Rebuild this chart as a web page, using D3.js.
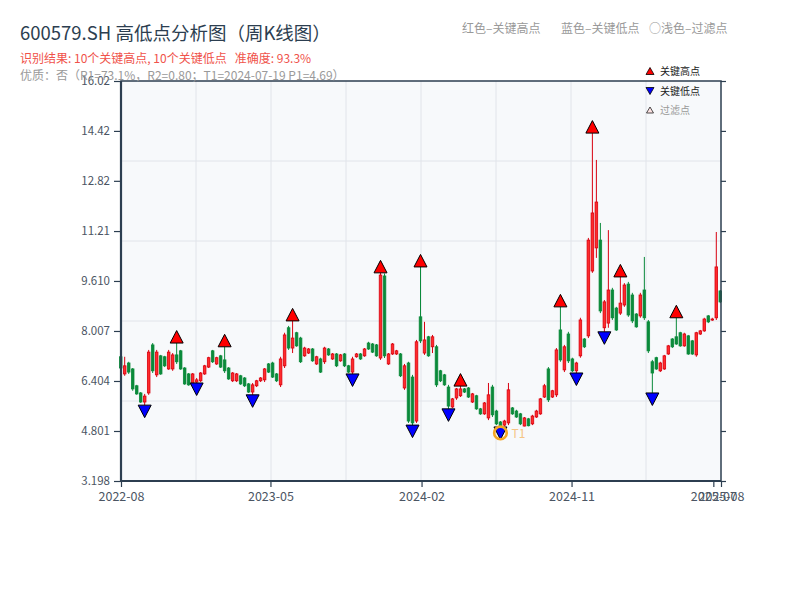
<!DOCTYPE html>
<html>
<head>
<meta charset="utf-8">
<script src="https://cdn.jsdelivr.net/npm/d3@7"></script>
<style>
  body { margin: 0; background: #fff; }
  text { font-family: "Noto Sans CJK SC", "Noto Sans", sans-serif; }
</style>
</head>
<body>
<div id="chart"></div>
<script>
// weekly candles, 2022-08 .. 2025-07
const opens = [7.18,6.63,6.98,6.79,6.25,6.02,5.73,6.02,7.56,6.60,7.21,7.18,6.79,6.79,7.24,7.37,6.82,6.63,6.28,6.37,
  6.41,6.63,6.85,7.37,6.95,7.21,7.08,6.82,6.41,6.41,6.57,6.50,6.31,6.05,6.25,6.41,6.44,6.95,6.98,6.63,
  6.28,6.89,8.11,7.46,7.95,7.78,7.21,7.30,7.43,6.95,7.11,7.02,7.43,7.11,7.27,7.05,7.27,6.89,6.69,7.18,
  7.27,7.21,7.62,7.59,7.56,7.14,9.77,6.95,7.27,7.27,7.27,6.18,6.98,6.53,5.12,8.46,7.30,7.82,7.50,7.50,
  6.73,6.60,6.21,5.57,5.86,5.93,6.15,6.18,5.73,5.93,5.51,5.35,5.22,6.21,5.44,5.09,4.99,5.06,5.54,5.44,
  5.35,4.96,5.19,5.03,5.25,5.35,5.89,6.79,5.89,5.96,8.04,6.76,7.91,7.11,6.73,7.21,7.75,7.85,9.93,10.67,
  10.92,8.11,8.26,9.32,8.74,8.58,8.84,9.51,9.16,8.55,8.49,9.32,8.30,7.02,7.15,6.73,6.79,7.27,7.75,7.82,
  7.95,7.53,7.85,7.69,7.24,7.91,8.01,8.49,8.36,8.43,9.29];
const highs = [7.24,7.18,7.02,6.82,6.28,6.05,5.99,7.40,7.62,7.40,7.24,7.21,7.40,7.30,7.62,7.40,6.85,6.66,6.66,6.50,
  6.69,6.92,7.18,7.40,7.18,7.24,7.50,6.85,6.69,6.66,6.60,6.53,6.34,6.34,6.44,6.53,6.82,6.98,7.02,6.66,
  7.18,7.95,8.17,8.33,7.98,7.82,7.50,7.46,7.46,7.21,7.15,7.50,7.46,7.30,7.30,7.27,7.30,6.92,7.18,7.30,
  7.30,7.46,7.66,7.62,7.59,9.87,9.85,7.30,7.62,7.40,7.30,6.95,7.02,6.60,7.72,10.06,8.30,7.85,7.88,7.56,
  6.76,6.63,6.28,5.86,6.18,6.24,6.18,6.21,6.02,5.96,5.54,5.73,6.34,6.28,5.48,5.12,5.16,6.34,5.57,5.48,
  5.38,5.25,5.22,5.32,5.48,5.86,6.31,6.85,6.12,7.46,8.78,7.56,7.98,7.15,7.02,8.43,7.78,10.99,14.35,13.49,
  11.47,9.00,11.24,9.39,8.78,9.74,9.54,9.58,9.23,8.58,9.23,10.38,8.36,7.08,7.18,7.02,7.24,7.56,7.78,8.43,
  7.98,7.95,7.88,7.72,7.98,8.04,8.43,8.52,8.43,11.18,9.32];
const lows = [6.76,6.57,6.63,6.09,5.96,5.70,5.63,5.96,6.66,6.53,6.60,6.85,6.76,6.73,6.95,6.76,6.28,6.25,6.25,6.34,
  6.37,6.60,6.82,6.98,6.92,6.82,6.66,6.44,6.37,6.37,6.28,6.21,6.02,5.96,6.21,6.37,6.37,6.66,6.50,6.37,
  6.21,6.82,7.40,7.30,7.50,6.98,7.18,7.27,7.02,6.92,6.66,6.95,7.21,7.08,6.85,7.02,6.85,6.66,6.63,7.15,
  7.08,7.18,7.40,7.30,7.18,7.08,7.14,6.92,7.24,7.24,6.53,6.12,5.06,4.99,5.06,7.62,7.24,7.18,7.30,6.21,
  6.37,6.25,5.51,5.54,5.80,5.89,6.02,5.86,5.70,5.48,5.32,5.32,5.15,5.25,4.99,4.93,4.96,4.99,5.32,5.22,
  4.99,4.95,4.95,4.99,5.22,5.32,5.86,5.73,5.86,5.89,7.02,6.69,6.98,6.69,6.66,7.15,7.46,7.78,9.87,10.35,
  8.58,7.98,8.11,8.36,8.01,8.52,8.78,8.46,8.26,8.11,8.43,8.36,7.30,6.02,6.76,6.69,6.76,7.24,7.46,7.56,
  7.50,7.50,7.24,7.24,7.18,7.88,7.98,8.26,8.33,8.36,8.90];
const closes = [6.82,6.89,6.69,6.15,5.99,5.73,5.92,7.33,6.73,7.33,6.63,6.89,7.33,7.24,7.02,6.79,6.31,6.28,6.63,6.44,
  6.66,6.89,7.15,7.02,7.15,6.85,6.73,6.47,6.66,6.63,6.31,6.25,6.05,6.28,6.41,6.50,6.79,6.69,6.53,6.41,
  7.11,7.88,7.46,7.78,7.53,7.02,7.46,7.43,7.05,7.18,6.69,7.46,7.24,7.27,6.89,7.24,6.89,6.69,7.11,7.27,
  7.11,7.43,7.43,7.33,7.21,9.80,7.21,7.27,7.59,7.37,6.57,6.89,5.12,5.06,7.66,7.69,7.72,7.21,7.82,6.28,
  6.41,6.28,5.60,5.83,6.15,6.15,6.05,5.89,5.99,5.51,5.35,5.70,5.96,5.32,5.03,4.96,5.12,6.12,5.35,5.25,
  5.03,5.22,4.97,5.28,5.44,5.83,6.25,5.80,6.09,7.40,7.08,7.50,7.05,6.73,6.98,8.36,7.50,10.92,11.79,12.14,
  8.65,8.94,9.32,8.43,8.04,8.90,9.48,8.52,8.33,8.14,9.16,8.43,7.37,6.66,6.79,6.98,7.21,7.53,7.50,7.59,
  7.53,7.91,7.27,7.27,7.95,8.01,8.39,8.30,8.39,10.06,8.94];

const keyHighs = [14, 26, 43, 65, 75, 85, 110, 118, 125, 139];
const keyLows = [6, 19, 33, 58, 73, 82, 95, 114, 121, 133];
const t1Index = 95;

const yTickValues = [3.198, 4.801, 6.404, 8.007, 9.610, 11.21, 12.82, 14.42, 16.02];
const yTickLabels = ["3.198", "4.801", "6.404", "8.007", "9.610", "11.21", "12.82", "14.42", "16.02"];
const xTickDates = ["2022-08-01", "2023-05-01", "2024-02-01", "2024-11-01", "2025-07-18", "2025-08-01"];
const xTickLabels = ["2022-08", "2023-05", "2024-02", "2024-11", "2025-07", "2025-08"];

const legendItems = ["关键高点", "关键低点", "过滤点"];

let dim = { top: 81, right: 79, bottom: 119, left: 121 };
let width = 800 - dim.left - dim.right;
let height = 600 - dim.top - dim.bottom;

const red = "#d8000f", redFill = "#ff2b2b", green = "#0a8a3a";
const dark = "#2c3e50", tickColor = "#4b5563";

let svg = d3.select("#chart").append("svg")
  .attr("width", 800).attr("height", 600);

let plot = svg.append("g")
  .attr("transform", "translate(" + dim.left + "," + dim.top + ")");

// scales
let xTime = d3.scaleUtc()
  .domain([Date.UTC(2022, 7, 1), Date.UTC(2025, 7, 1)])
  .range([0, width]);
let x = d3.scaleLinear()
  .domain([0, opens.length - 1])
  .range([-0.3, width - 0.7]);
let y = d3.scaleLinear()
  .domain([3.198, 16.02])
  .range([height, 0]);

// background + grid
plot.append("rect").attr("width", width).attr("height", height).attr("fill", "#f7f9fb");
for (let k = 1; k < 8; k++) {
  plot.append("line")
    .attr("x1", width * k / 8).attr("x2", width * k / 8)
    .attr("y1", 0).attr("y2", height)
    .attr("stroke", "#e1e4ea").attr("stroke-width", 1);
}
for (let k = 1; k < 5; k++) {
  plot.append("line")
    .attr("x1", 0).attr("x2", width)
    .attr("y1", height * k / 5).attr("y2", height * k / 5)
    .attr("stroke", "#e1e4ea").attr("stroke-width", 1);
}

// candles
const idx = d3.range(opens.length);
const up = i => closes[i] >= opens[i];
const bw = 2.6;
let candles = plot.append("g").selectAll("g").data(idx).join("g");
candles.append("line")
  .attr("x1", i => x(i)).attr("x2", i => x(i))
  .attr("y1", i => y(highs[i])).attr("y2", i => y(lows[i]))
  .attr("stroke", i => up(i) ? red : green)
  .attr("stroke-width", 1);
candles.append("rect")
  .attr("x", i => x(i) - bw / 2)
  .attr("y", i => y(Math.max(opens[i], closes[i])))
  .attr("width", bw)
  .attr("height", i => Math.max(1, Math.abs(y(opens[i]) - y(closes[i]))))
  .attr("fill", i => up(i) ? redFill : green)
  .attr("stroke", i => up(i) ? red : green)
  .attr("stroke-width", 0.8);

// key high / low markers
const tw = 13, th = 12.5;
plot.append("g").selectAll("path").data(keyHighs).join("path")
  .attr("d", i => {
    let cx = x(i), cy = y(highs[i]);
    return `M${cx - tw / 2},${cy}L${cx + tw / 2},${cy}L${cx},${cy - th}Z`;
  })
  .attr("fill", "#ff0000").attr("stroke", "#000").attr("stroke-width", 1);
plot.append("g").selectAll("path").data(keyLows).join("path")
  .attr("d", i => {
    let cx = x(i), cy = y(lows[i]);
    return `M${cx - tw / 2},${cy}L${cx + tw / 2},${cy}L${cx},${cy + th}Z`;
  })
  .attr("fill", "#0000ff").attr("stroke", "#000").attr("stroke-width", 1);

// T1 mark
plot.append("circle")
  .attr("cx", x(t1Index)).attr("cy", y(lows[t1Index]) + 6)
  .attr("r", 6.3)
  .attr("fill", "none").attr("stroke", "#f5a623").attr("stroke-width", 2.6);
plot.append("text")
  .attr("x", x(t1Index) + 11).attr("y", y(lows[t1Index]) + 11)
  .attr("font-size", "12px").attr("fill", "#f5c584")
  .text("T1");

// axes
let yLeft = plot.append("g")
  .call(d3.axisLeft(y).tickValues(yTickValues).tickFormat((d, i) => yTickLabels[i]).tickSize(7).tickPadding(4));
let yRight = plot.append("g")
  .attr("transform", "translate(" + width + ",0)")
  .call(d3.axisRight(y).tickValues(yTickValues).tickFormat("").tickSize(5));
let xBottom = plot.append("g")
  .attr("transform", "translate(0," + height + ")")
  .call(d3.axisBottom(xTime)
    .tickValues(xTickDates.map(s => new Date(s + "T00:00:00Z")))
    .tickFormat((d, i) => xTickLabels[i]).tickSize(6).tickPadding(5));
[yLeft, yRight, xBottom].forEach(a => {
  a.select(".domain").remove();
  a.selectAll(".tick line").attr("stroke", dark).attr("stroke-width", 1.2);
  a.selectAll(".tick text").attr("fill", tickColor)
    .attr("font-family", "'Noto Sans CJK SC', 'Noto Sans', sans-serif");
});
yLeft.selectAll(".tick text").attr("font-size", "11.5px");
xBottom.selectAll(".tick text").attr("font-size", "12.5px");

// frame
plot.append("rect").attr("width", width).attr("height", height)
  .attr("fill", "none").attr("stroke", dark).attr("stroke-width", 1.5);
plot.append("line").attr("x1", 0).attr("x2", 0).attr("y1", 0).attr("y2", height)
  .attr("stroke", dark).attr("stroke-width", 2.2);
plot.append("line").attr("x1", 0).attr("x2", width).attr("y1", height).attr("y2", height)
  .attr("stroke", dark).attr("stroke-width", 2.2);

// legend
let legend = svg.append("g").attr("transform", "translate(650,0)");
const legendY = [71, 91, 110];
legend.append("path").attr("d", `M-4,${legendY[0] + 3.5}L4,${legendY[0] + 3.5}L0,${legendY[0] - 3.5}Z`)
  .attr("fill", "#ff0000").attr("stroke", "#000").attr("stroke-width", 0.8);
legend.append("path").attr("d", `M-4,${legendY[1] - 3.5}L4,${legendY[1] - 3.5}L0,${legendY[1] + 3.5}Z`)
  .attr("fill", "#0000ff").attr("stroke", "#000").attr("stroke-width", 0.8);
legend.append("path").attr("d", `M-3.5,${legendY[2] + 3}L3.5,${legendY[2] + 3}L0,${legendY[2] - 3}Z`)
  .attr("fill", "#fde3e3").attr("stroke", "#222").attr("stroke-width", 0.8);
legend.selectAll("text").data(legendItems).join("text")
  .attr("x", 10).attr("y", (d, i) => legendY[i] + 3.5)
  .attr("font-size", "10px")
  .attr("fill", (d, i) => i < 2 ? "#222" : "#999")
  .text(d => d);

// titles
svg.append("text").attr("x", 20).attr("y", 40)
  .attr("font-size", "18.5px").attr("fill", "#2c3e50")
  .text("600579.SH 高低点分析图（周K线图）");
svg.append("text").attr("x", 20).attr("y", 63)
  .attr("font-size", "12px").attr("fill", "#f0524a")
  .style("white-space", "pre")
  .text("识别结果: 10个关键高点, 10个关键低点   准确度: 93.3%");
svg.append("text").attr("x", 20).attr("y", 80)
  .attr("font-size", "12px").attr("fill", "#9a9a9a")
  .text("优质：否（R1=73.1%，R2=0.80；T1=2024-07-19 P1=4.69）");

// colour key, top right
const keyNotes = [["红色–关键高点", 462], ["蓝色–关键低点", 561], ["○浅色–过滤点", 649]];
svg.selectAll("text.note").data(keyNotes).join("text")
  .attr("class", "note")
  .attr("x", d => d[1]).attr("y", 33)
  .attr("font-size", "12px").attr("fill", "#999")
  .text(d => d[0]);

// y labels sit over the third title line, as in the original
yLeft.raise();
</script>
</body>
</html>
